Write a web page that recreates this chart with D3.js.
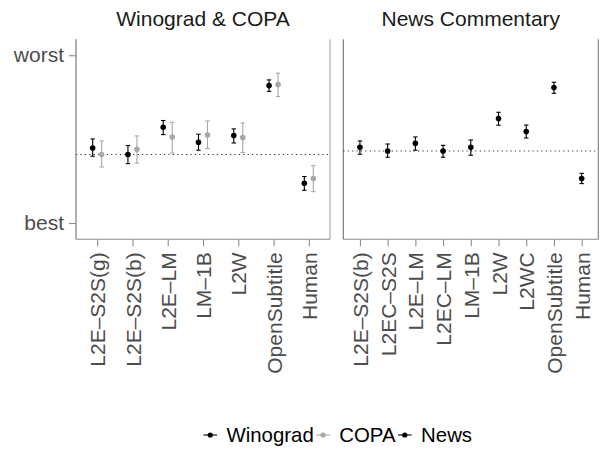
<!DOCTYPE html>
<html>
<head>
<meta charset="utf-8">
<script src="https://cdn.jsdelivr.net/npm/d3@7"></script>
<style>
  html, body { margin: 0; padding: 0; background: #fff; }
  svg { display: block; font-family: "Liberation Sans", Arial, Helvetica, sans-serif; }
</style>
</head>
<body>
<svg id="chart" width="600" height="452"></svg>
<script>
// ---- data (0 = best, 1 = worst) ----
const panelTitles = ["Winograd & COPA", "News Commentary"];
const yTickValues = [0, 1];
const yTickLabels = ["best", "worst"];

const leftCats = ["L2E–S2S(g)", "L2E–S2S(b)", "L2E–LM", "LM–1B", "L2W", "OpenSubtitle", "Human"];
const winograd   = [0.447, 0.408, 0.571, 0.481, 0.521, 0.819, 0.237];
const winogradLo = [0.398, 0.354, 0.527, 0.434, 0.477, 0.785, 0.195];
const winogradHi = [0.501, 0.462, 0.611, 0.529, 0.561, 0.853, 0.277];
const copa   = [0.408, 0.439, 0.513, 0.525, 0.509, 0.825, 0.265];
const copaLo = [0.334, 0.358, 0.417, 0.444, 0.420, 0.754, 0.187];
const copaHi = [0.489, 0.519, 0.600, 0.608, 0.596, 0.893, 0.342];
const leftBaseline = 0.408;

const rightCats = ["L2E–S2S(b)", "L2EC–S2S", "L2E–LM", "L2EC–LM", "LM–1B", "L2W", "L2WC", "OpenSubtitle", "Human"];
const news   = [0.451, 0.429, 0.475, 0.429, 0.451, 0.623, 0.545, 0.807, 0.265];
const newsLo = [0.410, 0.392, 0.434, 0.392, 0.404, 0.583, 0.507, 0.773, 0.235];
const newsHi = [0.489, 0.471, 0.513, 0.463, 0.495, 0.660, 0.584, 0.839, 0.296];
const rightBaseline = 0.429;

const seriesNames = ["Winograd", "COPA", "News"];
const seriesColors = ["#000000", "#a8a8a8", "#000000"];

(function () {
// ---- layout ----
const svg = d3.select("#chart");
const plotTop = 39.3, plotBottom = 239.3;
const fontSize = "21px";
const y = d3.scaleLinear().domain([-0.097, 1.095]).range([plotBottom, plotTop]);
const color = d3.scaleOrdinal().domain(seriesNames).range(seriesColors);

const panels = [
  { title: panelTitles[0], cats: leftCats, x0: 76, x1: 330, baseline: leftBaseline,
    series: [
      { name: "Winograd", v: winograd, lo: winogradLo, hi: winogradHi },
      { name: "COPA", v: copa, lo: copaLo, hi: copaHi }
    ], dodge: ["Winograd", "COPA"] },
  { title: panelTitles[1], cats: rightCats, x0: 343.3, x1: 598.3, baseline: rightBaseline,
    series: [ { name: "News", v: news, lo: newsLo, hi: newsHi } ], dodge: ["News"] }
];

const textGray = "#4d4d4d";
const lineGray = "#8c8c8c";

panels.forEach((p, pi) => {
  const x = d3.scalePoint().domain(p.cats).range([p.x0, p.x1]).padding(0.6);
  const dodge = d3.scaleBand().domain(p.dodge).range(p.dodge.length > 1 ? [-9, 9] : [0, 0]);
  const g = svg.append("g");

  // frame: left, right, bottom
  g.append("line").attr("x1", p.x0).attr("x2", p.x0).attr("y1", plotTop).attr("y2", plotBottom)
    .attr("stroke", "#6e6e6e").attr("stroke-width", 1.1);
  g.append("line").attr("x1", p.x1).attr("x2", p.x1).attr("y1", plotTop).attr("y2", plotBottom)
    .attr("stroke", pi === 0 ? "#a8a8a8" : "#7a7a7a").attr("stroke-width", 1.1);
  g.append("line").attr("x1", p.x0).attr("x2", p.x1).attr("y1", plotBottom).attr("y2", plotBottom)
    .attr("stroke", lineGray).attr("stroke-width", 1.1);

  // x axis
  const xAxis = d3.axisBottom(x).tickSize(7).tickPadding(6);
  const gx = g.append("g").attr("transform", `translate(0,${plotBottom})`).call(xAxis);
  gx.select(".domain").remove();
  gx.selectAll(".tick line").attr("stroke", lineGray).attr("stroke-width", 1.1);
  gx.selectAll(".tick text")
    .attr("fill", textGray).attr("font-size", fontSize)
    .attr("text-anchor", "end")
    .attr("transform", "rotate(-90)")
    .attr("x", -13).attr("y", 0).attr("dy", "0.36em");

  // y axis (left panel only)
  if (pi === 0) {
    const yAxis = d3.axisLeft(y).tickValues(yTickValues)
      .tickFormat((d, i) => yTickLabels[i]).tickSize(7).tickPadding(5);
    const gy = g.append("g").attr("transform", `translate(${p.x0},0)`).call(yAxis);
    gy.select(".domain").remove();
    gy.selectAll(".tick line").attr("stroke", lineGray).attr("stroke-width", 1.1);
    gy.selectAll(".tick text").attr("fill", textGray).attr("font-size", fontSize);
  }

  // baseline
  g.append("line").attr("x1", p.x0).attr("x2", p.x1)
    .attr("y1", y(p.baseline)).attr("y2", y(p.baseline))
    .attr("stroke", "#333").attr("stroke-width", 1.1).attr("stroke-dasharray", "1.2,3.2");

  // title
  g.append("text").attr("x", (p.x0 + p.x1) / 2).attr("y", 25.5)
    .attr("text-anchor", "middle").attr("font-size", fontSize).attr("fill", "#1a1a1a")
    .text(p.title);

  // series
  p.series.forEach(s => {
    const data = p.cats.map((c, i) => ({ c, v: s.v[i], lo: s.lo[i], hi: s.hi[i] }));
    const col = color(s.name);
    const off = dodge(s.name) + dodge.bandwidth() / 2;
    const sg = g.append("g");
    const eb = sg.selectAll(".eb").data(data).enter().append("g");
    eb.append("line").attr("x1", d => x(d.c) + off).attr("x2", d => x(d.c) + off)
      .attr("y1", d => y(d.lo)).attr("y2", d => y(d.hi)).attr("stroke", col).attr("stroke-width", 1.1);
    eb.append("line").attr("x1", d => x(d.c) + off - 2.2).attr("x2", d => x(d.c) + off + 2.2)
      .attr("y1", d => y(d.lo)).attr("y2", d => y(d.lo)).attr("stroke", col).attr("stroke-width", 1.1);
    eb.append("line").attr("x1", d => x(d.c) + off - 2.2).attr("x2", d => x(d.c) + off + 2.2)
      .attr("y1", d => y(d.hi)).attr("y2", d => y(d.hi)).attr("stroke", col).attr("stroke-width", 1.1);
    sg.selectAll("circle").data(data).enter().append("circle")
      .attr("cx", d => x(d.c) + off).attr("cy", d => y(d.v)).attr("r", 2.8).attr("fill", col);
  });
});

// ---- legend ----
const legend = svg.append("g").attr("transform", "translate(0,435)");
let lx = 203.5;
seriesNames.forEach(name => {
  const col = color(name);
  legend.append("line").attr("x1", lx).attr("x2", lx + 13.5).attr("y1", 0).attr("y2", 0)
    .attr("stroke", col).attr("stroke-width", 1.1);
  legend.append("circle").attr("cx", lx + 6.75).attr("cy", 0).attr("r", 2.6).attr("fill", col);
  const t = legend.append("text").attr("x", lx + 23).attr("y", 0).attr("dy", "0.36em")
    .attr("font-size", "20.4px").attr("fill", "#000").text(name);
  lx = lx + 23 + t.node().getComputedTextLength() + 2.5;
});
})();
</script>
</body>
</html>
